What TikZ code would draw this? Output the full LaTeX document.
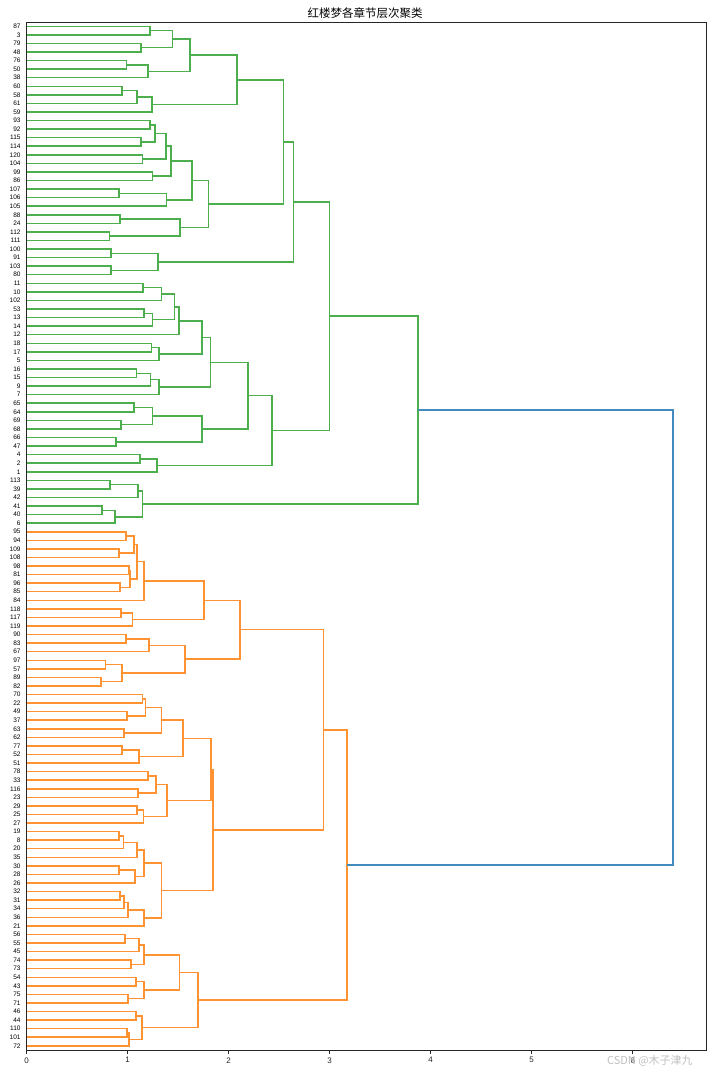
\documentclass[tikz,border=0pt]{standalone}
\usepackage{fontspec}
\setmainfont{Liberation Sans}
\newfontfamily\cjk{Noto Sans CJK SC}
\usetikzlibrary{calc}
\definecolor{tabgreen}{HTML}{2CA02C}
\definecolor{taborange}{HTML}{FF7F0E}
\definecolor{tabblue}{HTML}{1F77B4}
\tikzstyle{leaf} = [anchor=east, inner sep=0pt, xshift=-6pt, font=\fontsize{6.5}{7}\selectfont]
\tikzstyle{link_g} = [line width=1.5pt, tabgreen!85!white]
\tikzstyle{link_o} = [line width=1.5pt, taborange!85!white]
\tikzstyle{link_b} = [line width=1.5pt, tabblue!85!white]
\tikzstyle{frame} = [line width=0.8pt, black!85]
\tikzstyle{xtick} = [line width=0.8pt, black!85]
\tikzstyle{ticklabel} = [below, inner sep=3.5pt, font=\fontsize{8}{9}\selectfont]
\tikzstyle{wmark} = [inner sep=0pt, text=black!25, font=\cjk\fontsize{11}{12}\selectfont]

\begin{document}
\begin{tikzpicture}[x=101pt, y=-8.567pt]
\useasboundingbox (-0.2644,-2.068) rectangle (6.785,123.06);

\node (title) at (3.35,-0.55) {\cjk\fontsize{11.5}{13}\selectfont 红楼梦各章节层次聚类};
\draw[frame] (0,0.5) rectangle (6.726,120.5);

% leaves, top to bottom
\foreach \lab [count=\i] in {87,3,79,48,76,50,38,60,58,61,59,93,92,115,114,120,104,99,86,107,
  106,105,88,24,112,111,100,91,103,80,11,10,102,53,13,14,12,18,17,5,
  16,15,9,7,65,64,69,68,66,47,4,2,1,113,39,42,41,40,6,95,
  94,109,108,98,81,96,85,84,118,117,119,90,83,67,97,57,89,82,70,22,
  49,37,63,62,77,52,51,78,33,116,23,29,25,27,19,8,20,35,30,28,
  26,32,31,34,36,21,56,55,45,74,73,54,43,75,71,46,44,110,101,72}{
  \coordinate (l\lab) at (0,\i);
  \node[leaf] (t\lab) at (l\lab) {\lab};
}

% green cluster
\foreach \nm/\ca/\cb/\hgt in {g1/l87/l3/1.22, g2/l79/l48/1.13, g3/g1/g2/1.445, g4/l76/l50/0.99,
  g5/g4/l38/1.20, g6/g3/g5/1.617, g7/l60/l58/0.944, g8/g7/l61/1.09, g9/g8/l59/1.24, gA/g6/g9/2.08,
  g10/l93/l92/1.22, g11/l115/l114/1.13, g12/g10/g11/1.27, g13/l120/l104/1.145, g14/g12/g13/1.38,
  g15/l99/l86/1.244, g16/g14/g15/1.43, g17/l107/l106/0.914, g18/g17/l105/1.386, g19/g16/g18/1.637,
  g20/l88/l24/0.924, g21/l112/l111/0.82, g22/g20/g21/1.518, gB/g19/g22/1.80, gAB/gA/gB/2.54,
  g23/l100/l91/0.835, g24/l103/l80/0.835, gC/g23/g24/1.30, gABC/gAB/gC/2.64,
  g25/l11/l10/1.152, g26/g25/l102/1.333, g27/l53/l13/1.162, g28/g27/l14/1.244, g29/g26/g28/1.465,
  g30/g29/l12/1.51, g31/l18/l17/1.234, g32/g31/l5/1.31, g33/g30/g32/1.736, g34/l16/l15/1.086,
  g35/g34/l9/1.224, g36/g35/l7/1.31, gD/g33/g36/1.82, g37/l65/l64/1.063, g38/l69/l68/0.934,
  g39/g37/g38/1.244, g40/l66/l47/0.885, gE/g39/g40/1.736, gDE/gD/gE/2.19, g41/l4/l2/1.122,
  gF/g41/l1/1.29, gDEF/gDE/gF/2.43, gAF/gABC/gDEF/3.00, g42/l113/l39/0.825, g43/g42/l42/1.10,
  g44/l41/l40/0.743, g45/g44/l6/0.875, gG/g43/g45/1.145, gtop/gAF/gG/3.875}{
  \path ($(\ca)!0.5!(\cb)$) coordinate (mid);
  \coordinate (\nm) at (mid -| \hgt,0);
  \draw[link_g] (\ca) -| (\nm) |- (\cb);
}

% orange cluster
\foreach \nm/\ca/\cb/\hgt in {o1/l95/l94/0.983, o2/l109/l108/0.914, o3/o1/o2/1.063, o4/l98/l81/1.013,
  o5/l96/l85/0.924, o6/o4/o5/1.023, o7/o3/o6/1.092, o8/o7/l84/1.162, o9/l118/l117/0.934,
  o10/o9/l119/1.046, oH/o8/o10/1.755, o11/l90/l83/0.983, o12/o11/l67/1.211, o13/l97/l57/0.779,
  o14/l89/l82/0.736, o15/o13/o14/0.944, oI/o12/o15/1.568, oHI/oH/oI/2.11,
  o16/l70/l22/1.145, o17/l49/l37/0.993, o18/o16/o17/1.178, o19/l63/l62/0.964, o20/o18/o19/1.333,
  o21/l77/l52/0.944, o22/o21/l51/1.112, oJ/o20/o22/1.545, o23/l78/l33/1.20, o24/l116/l23/1.10,
  o25/o23/o24/1.28, o26/l29/l25/1.092, o27/o26/l27/1.155, oK/o25/o27/1.39, oJK/oJ/oK/1.825,
  o28/l19/l8/0.914, o29/o28/l20/0.957, o30/o29/l35/1.092, o31/l30/l28/0.914, o32/o31/l26/1.073,
  o33/o30/o32/1.162, o34/l32/l31/0.924, o35/o34/l34/0.964, o36/o35/l36/1.003, o37/o36/l21/1.162,
  oL/o33/o37/1.333, oJKL/oJK/oL/1.845, oHL/oHI/oJKL/2.94,
  o38/l56/l55/0.974, o39/o38/l45/1.112, o40/l74/l73/1.033, o41/o39/o40/1.162, o42/l54/l43/1.083,
  o43/l75/l71/1.003, o44/o42/o43/1.162, o45/o41/o44/1.511, o46/l46/l44/1.083, o47/l110/l101/0.993,
  o48/o47/l72/1.013, o49/o46/o48/1.142, oM/o45/o49/1.696, otop/oHL/oM/3.17}{
  \path ($(\ca)!0.5!(\cb)$) coordinate (mid);
  \coordinate (\nm) at (mid -| \hgt,0);
  \draw[link_o] (\ca) -| (\nm) |- (\cb);
}

% root
\path ($(gtop)!0.5!(otop)$) coordinate (mid);
\coordinate (root) at (mid -| 6.40,0);
\draw[link_b] (gtop) -| (root) |- (otop);

% x axis
\foreach \t in {0,...,6}{
  \draw[xtick] (\t,120.5) coordinate (x\t) -- ++(0,0.41) node[ticklabel] (xl\t) {\t};
}

\node[wmark] (wm) at (6.17,121.75) {CSDN @木子津九};
\end{tikzpicture}
\end{document}
